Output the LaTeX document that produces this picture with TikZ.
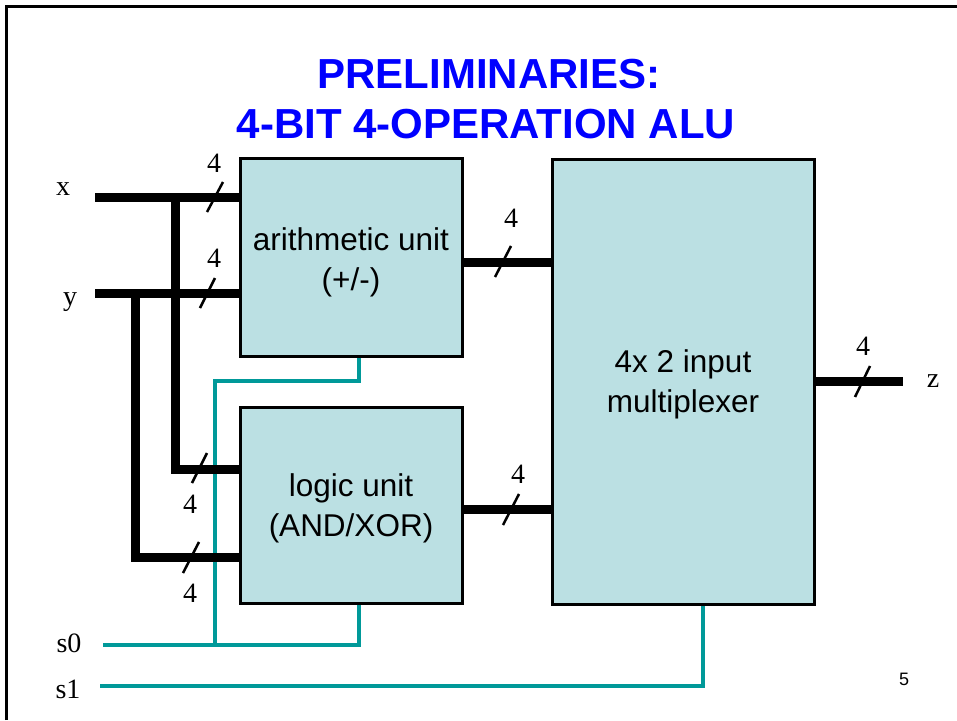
\documentclass[tikz,border=0pt]{standalone}
\usepackage{fontspec}
\setmainfont{Liberation Serif}
\setsansfont{Liberation Sans}
\definecolor{boxfill}{RGB}{187,224,227}
\definecolor{selteal}{RGB}{0,153,153}
\definecolor{titleblue}{RGB}{0,0,255}
\begin{document}
\begin{tikzpicture}[x=1pt,y=-1pt,
  unitbox/.style={draw=black,line width=3pt,fill=boxfill,inner sep=0pt,align=center,
    font=\sffamily\fontsize{31.5}{40}\selectfont},
  bus/.style={draw=black,line width=9pt},
  sel/.style={draw=selteal,line width=4.5pt},
  slashmark/.style={draw=black,line width=2.5pt},
  widthlbl/.style={font=\fontsize{28}{28}\selectfont,inner sep=0pt,anchor=base},
  siglbl/.style={font=\fontsize{28}{28}\selectfont,inner sep=0pt,anchor=base},
  titlefont/.style={font=\sffamily\bfseries\fontsize{42}{50}\selectfont,text=titleblue,inner sep=0pt,anchor=base}]
\useasboundingbox (0,0) rectangle (957,720);
\draw[line width=3pt] (6,720) -- (6,6) -- (957,6);

% title
\node[titlefont] (t1) at (489,88) {PRELIMINARIES:};
\node[titlefont] (t2) at (486,138) {4-BIT 4-OPERATION ALU};

% coordinates
\coordinate (xin) at (95,197);
\coordinate (yin) at (95,293);
\coordinate (xtap) at (175,197);
\coordinate (ytap) at (135,293);
\coordinate (lua) at (240,469);
\coordinate (lub) at (240,557);
\coordinate (auo) at (462,262);
\coordinate (luo) at (462,509);
\coordinate (muxo) at (814,381);
\coordinate (zend) at (903,381);
\coordinate (ausel) at (359,356);
\coordinate (aubend) at (359,381);
\coordinate (s0j) at (215,645);
\coordinate (s0in) at (103,645);
\coordinate (lusel) at (359,603);
\coordinate (s1in) at (100,686);
\coordinate (muxsel) at (703,604);

% select lines
\draw[sel] (ausel) -- (aubend) -| (s0j);
\draw[sel] (s0in) -| (lusel);
\draw[sel] (s1in) -| (muxsel);

% boxes
\node[unitbox,minimum width=222pt,minimum height=198pt,text depth=0pt] (au) at (351,257) {};
\node[unitbox,minimum width=222pt,minimum height=196pt] (lu) at (351,505) {};
\node[unitbox,minimum width=262pt,minimum height=445pt] (mux) at (683,381.5) {};
\node[unitbox,draw=none,fill=none] (aut) at (351,262) {arithmetic unit\\(+/-)};
\node[unitbox,draw=none,fill=none] (lut) at (351,508) {logic unit\\(AND/XOR)};
\node[unitbox,draw=none,fill=none] (muxt) at (683,384) {4x 2 input\\multiplexer};

% buses
\draw[bus] (xin) -- (xin -| au.west);
\draw[bus] (yin) -- (yin -| au.west);
\draw[bus] (xtap) |- (lua -| lu.west);
\draw[bus] (ytap) |- (lub -| lu.west);
\draw[bus] (auo -| au.east) -- (auo -| mux.west);
\draw[bus] (luo -| lu.east) -- (luo -| mux.west);
\draw[bus] (muxo -| mux.east) -- (zend);

% width slashes
\draw[slashmark] (207,212) -- (223,182);
\draw[slashmark] (200,308) -- (215,278);
\draw[slashmark] (192,483) -- (207,453);
\draw[slashmark] (183,573) -- (199,542);
\draw[slashmark] (495,277) -- (511,246);
\draw[slashmark] (503,525) -- (519,494);
\draw[slashmark] (855,397) -- (870,366);

% width labels
\node[widthlbl] (w1) at (214,172) {4};
\node[widthlbl] (w2) at (214,267) {4};
\node[widthlbl] (w3) at (190,513) {4};
\node[widthlbl] (w4) at (190,602) {4};
\node[widthlbl] (w5) at (511,227) {4};
\node[widthlbl] (w6) at (518,483) {4};
\node[widthlbl] (w7) at (863,355) {4};

% signal labels
\node[siglbl] (lx) at (63,195) {x};
\node[siglbl] (ly) at (70,305) {y};
\node[siglbl] (lz) at (933,387) {z};
\node[siglbl] (ls0) at (69,652) {s0};
\node[siglbl] (ls1) at (68,698) {s1};
\node[font=\sffamily\fontsize{18}{18}\selectfont,inner sep=0pt,anchor=base] (pg) at (904,685) {5};
\end{tikzpicture}
\end{document}
